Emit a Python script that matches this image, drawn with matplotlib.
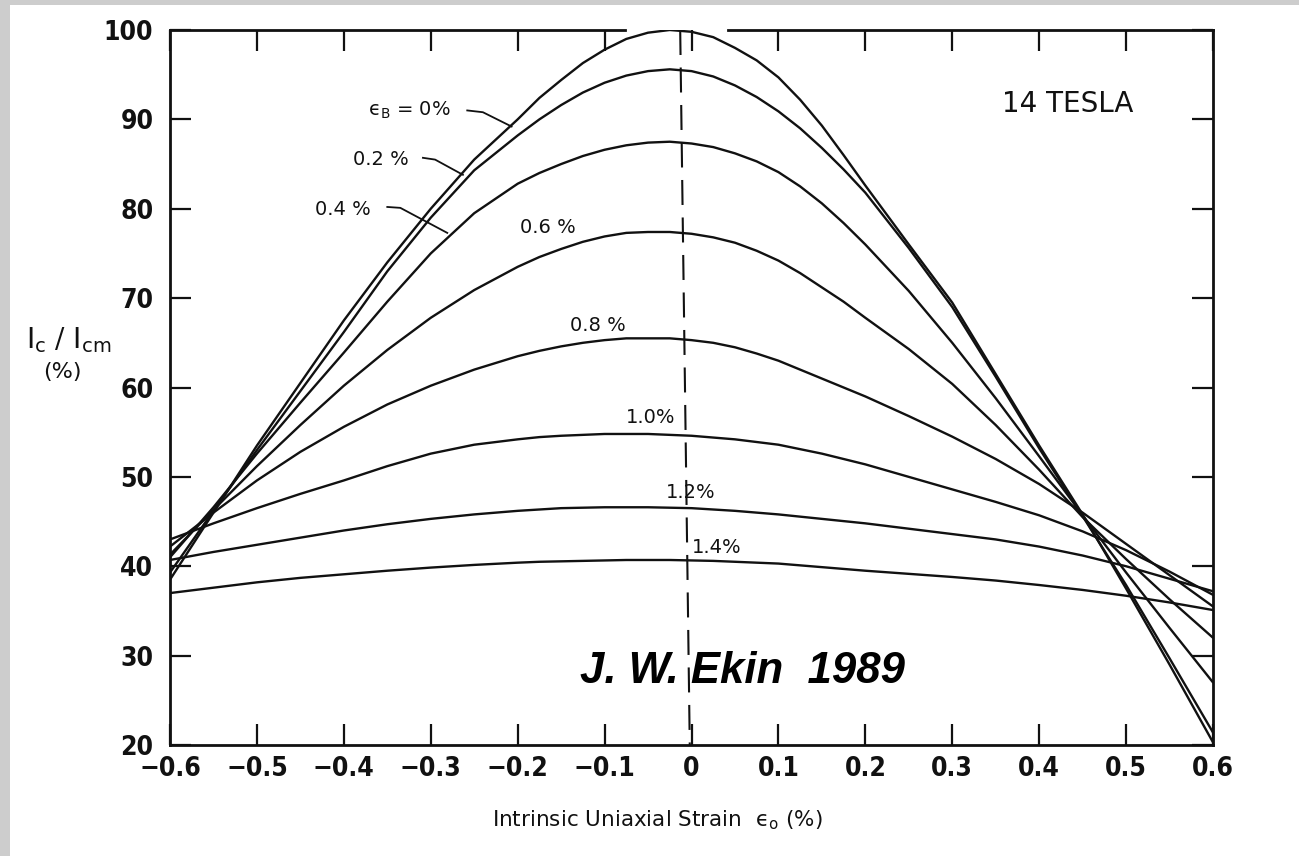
import matplotlib
matplotlib.use("Agg")
import matplotlib.pyplot as plt
from matplotlib.patches import Rectangle

# Intrinsic uniaxial strain grid (%), finer around the maxima
strain = [-0.600, -0.550, -0.500, -0.450, -0.400, -0.350, -0.300, -0.250,
          -0.200, -0.175, -0.150, -0.125, -0.100, -0.075, -0.050, -0.025,
          0.000, 0.025, 0.050, 0.075, 0.100, 0.125, 0.150, 0.175, 0.200,
          0.250, 0.300, 0.350, 0.400, 0.450, 0.500, 0.550, 0.600]

# Normalized critical current Ic/Icm (%) for each bending strain
ic_eb00 = [38.5, 46.0, 53.5, 60.5, 67.5, 74.0, 80.0, 85.5,
           90.0, 92.4, 94.4, 96.3, 97.8, 99.0, 99.7, 100.0,
           99.8, 99.2, 98.0, 96.6, 94.7, 92.2, 89.3, 86.0, 82.6,
           76.0, 69.5, 61.5, 53.5, 45.8, 37.5, 29.0, 20.3]
ic_eb02 = [39.3, 46.2, 53.0, 59.6, 66.2, 73.0, 79.0, 84.3,
           88.2, 90.0, 91.6, 93.0, 94.1, 94.9, 95.4, 95.6,
           95.4, 94.8, 93.8, 92.5, 90.9, 89.0, 86.8, 84.4, 81.8,
           75.6, 69.0, 61.2, 53.2, 45.6, 37.9, 29.7, 21.4]
ic_eb04 = [41.0, 46.6, 52.6, 58.3, 63.9, 69.6, 75.0, 79.5,
           82.8, 84.0, 85.0, 85.9, 86.6, 87.1, 87.4, 87.5,
           87.3, 86.9, 86.2, 85.3, 84.1, 82.5, 80.6, 78.4, 76.0,
           70.8, 65.0, 58.8, 52.3, 45.7, 39.3, 33.1, 27.0]
ic_eb06 = [41.3, 46.3, 51.2, 55.8, 60.2, 64.2, 67.8, 70.9,
           73.5, 74.6, 75.5, 76.3, 76.9, 77.3, 77.4, 77.4,
           77.2, 76.8, 76.2, 75.3, 74.2, 72.8, 71.2, 69.6, 67.8,
           64.3, 60.4, 55.8, 50.8, 45.5, 40.8, 36.3, 32.0]
ic_eb08 = [42.2, 46.0, 49.6, 52.8, 55.6, 58.1, 60.2, 62.0,
           63.5, 64.1, 64.6, 65.0, 65.3, 65.5, 65.5, 65.5,
           65.3, 65.0, 64.5, 63.8, 63.0, 62.0, 61.0, 60.0, 59.0,
           56.8, 54.5, 52.0, 49.2, 46.0, 42.5, 39.0, 35.5]
ic_eb10 = [43.0, 44.8, 46.5, 48.1, 49.6, 51.2, 52.6, 53.6,
           54.2, 54.45, 54.6, 54.7, 54.8, 54.8, 54.8, 54.7,
           54.6, 54.4, 54.2, 53.9, 53.6, 53.1, 52.6, 52.0, 51.4,
           50.0, 48.6, 47.2, 45.7, 43.9, 41.8, 39.4, 36.8]
ic_eb12 = [40.7, 41.6, 42.4, 43.2, 44.0, 44.7, 45.3, 45.8,
           46.2, 46.35, 46.5, 46.55, 46.6, 46.6, 46.6, 46.55,
           46.5, 46.35, 46.2, 46.0, 45.8, 45.55, 45.3, 45.05, 44.8,
           44.2, 43.6, 43.0, 42.2, 41.2, 40.0, 38.6, 37.2]
ic_eb14 = [37.0, 37.6, 38.2, 38.7, 39.1, 39.5, 39.85, 40.15,
           40.4, 40.5, 40.55, 40.6, 40.65, 40.7, 40.7, 40.7,
           40.65, 40.6, 40.5, 40.4, 40.3, 40.1, 39.9, 39.7, 39.5,
           39.15, 38.8, 38.4, 37.9, 37.35, 36.7, 35.95, 35.1]

curves = [ic_eb00, ic_eb02, ic_eb04, ic_eb06, ic_eb08, ic_eb10, ic_eb12, ic_eb14]

x_ticks = [-0.6, -0.5, -0.4, -0.3, -0.2, -0.1, 0.0, 0.1, 0.2, 0.3, 0.4, 0.5, 0.6]
x_tick_labels = ["\u22120.6", "\u22120.5", "\u22120.4", "\u22120.3", "\u22120.2", "\u22120.1",
                 "0", "0.1", "0.2", "0.3", "0.4", "0.5", "0.6"]
y_ticks = [20, 30, 40, 50, 60, 70, 80, 90, 100]
y_tick_labels = ["20", "30", "40", "50", "60", "70", "80", "90", "100"]

# Curve labels: (text, x, y) and leader polylines for the crowded upper-left ones
curve_labels = [
    ("\u03f5$_\\mathrm{B}$ = 0%", -0.372, 91.0),
    ("0.2 %", -0.389, 85.5),
    ("0.4 %", -0.433, 79.9),
    ("0.6 %", -0.197, 77.9),
    ("0.8 %", -0.140, 66.9),
    ("1.0%", -0.076, 56.6),
    ("1.2%", -0.030, 48.3),
    ("1.4%", 0.000, 42.1),
]
leader_x = [[-0.258, -0.240, -0.207],
            [-0.309, -0.295, -0.263],
            [-0.350, -0.335, -0.281]]
leader_y = [[91.0, 90.8, 89.2],
            [85.7, 85.5, 83.8],
            [80.2, 80.1, 77.3]]

# Zero-strain reference line (slightly tilted as drawn on the original plate)
ref_x = [-0.013, -0.002]
ref_y = [100, 20]

W, H = 1299, 856
fig = plt.figure(figsize=(W / 100, H / 100), dpi=100)
fig.patch.set_facecolor("#cdcdcd")
fig.patches.append(Rectangle((10 / W, 0), 1, 1 - 5 / H, transform=fig.transFigure,
                             facecolor="white", edgecolor="none", zorder=-10))

ax = fig.add_axes([170 / W, 1 - 745 / H, (1213 - 170) / W, (745 - 30) / H])
ax.set_facecolor("none")
ax.set_xlim(-0.6, 0.6)
ax.set_ylim(20, 100)

ink = "#111111"
for y in curves:
    ax.plot(strain, y, color=ink, lw=1.7, solid_joinstyle="round",
            solid_capstyle="round", zorder=3)

ax.plot(ref_x, ref_y, color=ink, lw=1.5, dashes=(12, 6), zorder=2)

for lx, ly in zip(leader_x, leader_y):
    ax.plot(lx, ly, color=ink, lw=1.3, zorder=3)

for txt, x, y in curve_labels:
    ax.text(x, y, txt, fontsize=14, color=ink, ha="left", va="center",
            family=["DejaVu Sans"], zorder=4)

# Frame: top edge is interrupted where the 0% curve reaches 100
for s in ("left", "right", "bottom"):
    ax.spines[s].set_linewidth(2.0)
    ax.spines[s].set_color(ink)
ax.spines["top"].set_visible(False)
ax.plot([-0.6, -0.076], [100, 100], color=ink, lw=2.0, clip_on=False, zorder=3)
ax.plot([0.042, 0.6], [100, 100], color=ink, lw=2.0, clip_on=False, zorder=3)

ax.set_xticks(x_ticks)
ax.set_xticklabels(x_tick_labels)
ax.set_yticks(y_ticks)
ax.set_yticklabels(y_tick_labels)
ax.tick_params(axis="both", which="major", direction="in", length=15, width=1.6,
               color=ink, top=True, right=True, labelsize=19, labelcolor=ink)
ax.tick_params(axis="x", pad=8)
ax.tick_params(axis="y", pad=12)
for lab in ax.get_xticklabels() + ax.get_yticklabels():
    lab.set_family("DejaVu Sans")
    lab.set_fontstretch("condensed")
    lab.set_fontweight("bold")

ax.text(0.357, 91.7, "14 TESLA", fontsize=20, color=ink, ha="left", va="center",
        family=["DejaVu Sans"], zorder=4)
ax.text(-0.128, 28.2, "J. W. Ekin  1989", fontsize=31.5, color="black",
        ha="left", va="center", family=["Liberation Sans", "DejaVu Sans"],
        fontweight="bold", fontstyle="italic", zorder=4)

fig.text(69 / W, 1 - 340 / H, r"$\mathrm{I_c}$ / $\mathrm{I_{cm}}$", fontsize=20,
         ha="center", va="center", color=ink, family=["DejaVu Serif"])
fig.text(62 / W, 1 - 372 / H, "(%)", fontsize=16, ha="center", va="center",
         color=ink, family=["DejaVu Sans"])
fig.text(657 / W, 1 - 820 / H, "Intrinsic Uniaxial Strain  \u03f5$_\\mathrm{o}$ (%)",
         fontsize=15.5, ha="center", va="center", color=ink, family=["DejaVu Sans"])

fig.savefig("out.png", dpi=100, facecolor=fig.get_facecolor())
